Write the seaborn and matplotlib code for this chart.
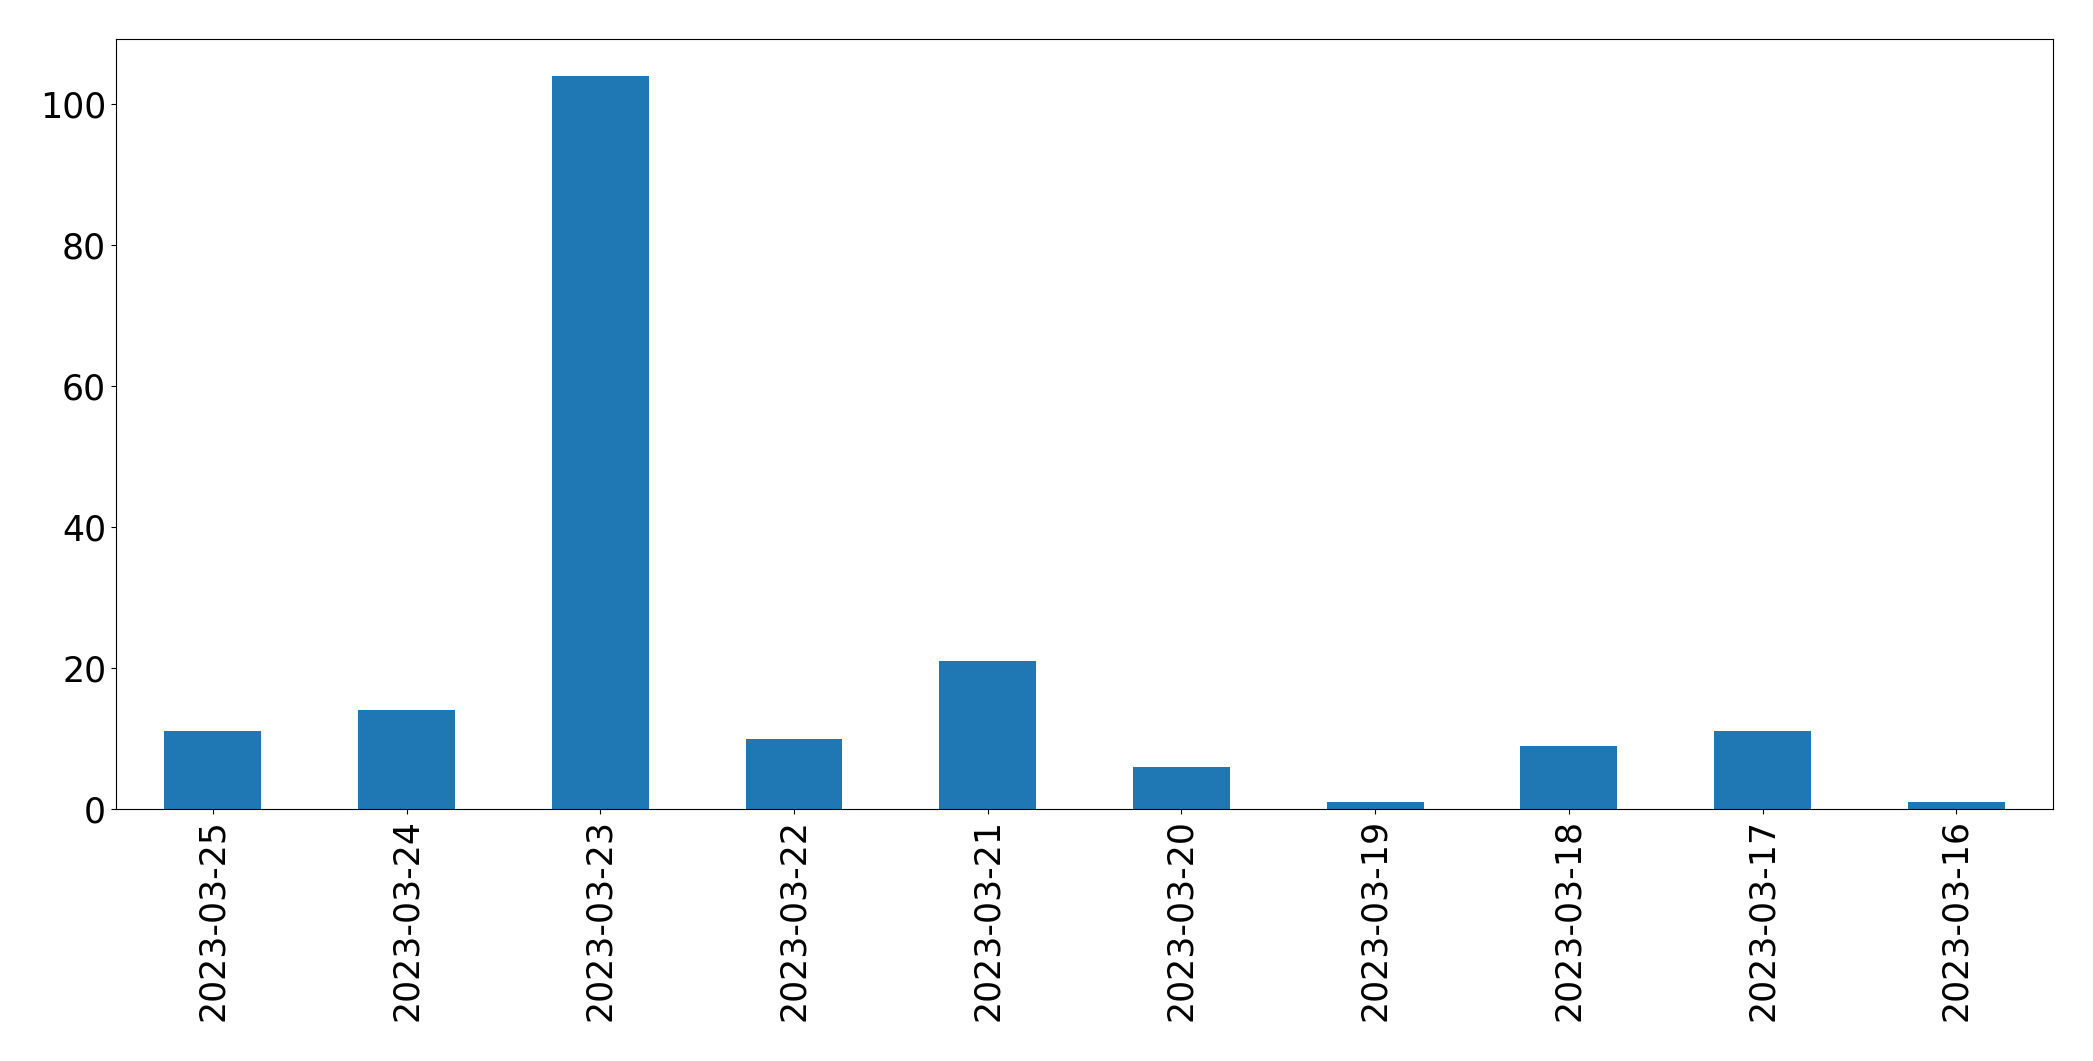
import matplotlib
matplotlib.use('Agg')
import matplotlib.pyplot as plt
import seaborn as sns
import pandas as pd

dates = ['2023-03-25', '2023-03-24', '2023-03-23', '2023-03-22', '2023-03-21',
         '2023-03-20', '2023-03-19', '2023-03-18', '2023-03-17', '2023-03-16']
counts = [11, 14, 104, 10, 21, 6, 1, 9, 11, 1]

df = pd.DataFrame({'date': dates, 'count': counts})

fig, ax = plt.subplots(figsize=(20.93, 10.61), dpi=100)
fig.subplots_adjust(left=0.0554, right=0.981, top=0.963, bottom=0.2375)
sns.barplot(data=df, x='date', y='count', order=dates, color='#1f77b4',
            saturation=1, width=0.5, ax=ax)
ax.set_xlim(-0.5, len(dates) - 0.5)
ax.set_ylim(0, max(counts) * 1.05)
ax.set_xlabel('')
ax.set_ylabel('')
ax.tick_params(axis='both', labelsize=25)
ax.tick_params(axis='x', labelrotation=90)

plt.savefig('out.png', dpi=100)
